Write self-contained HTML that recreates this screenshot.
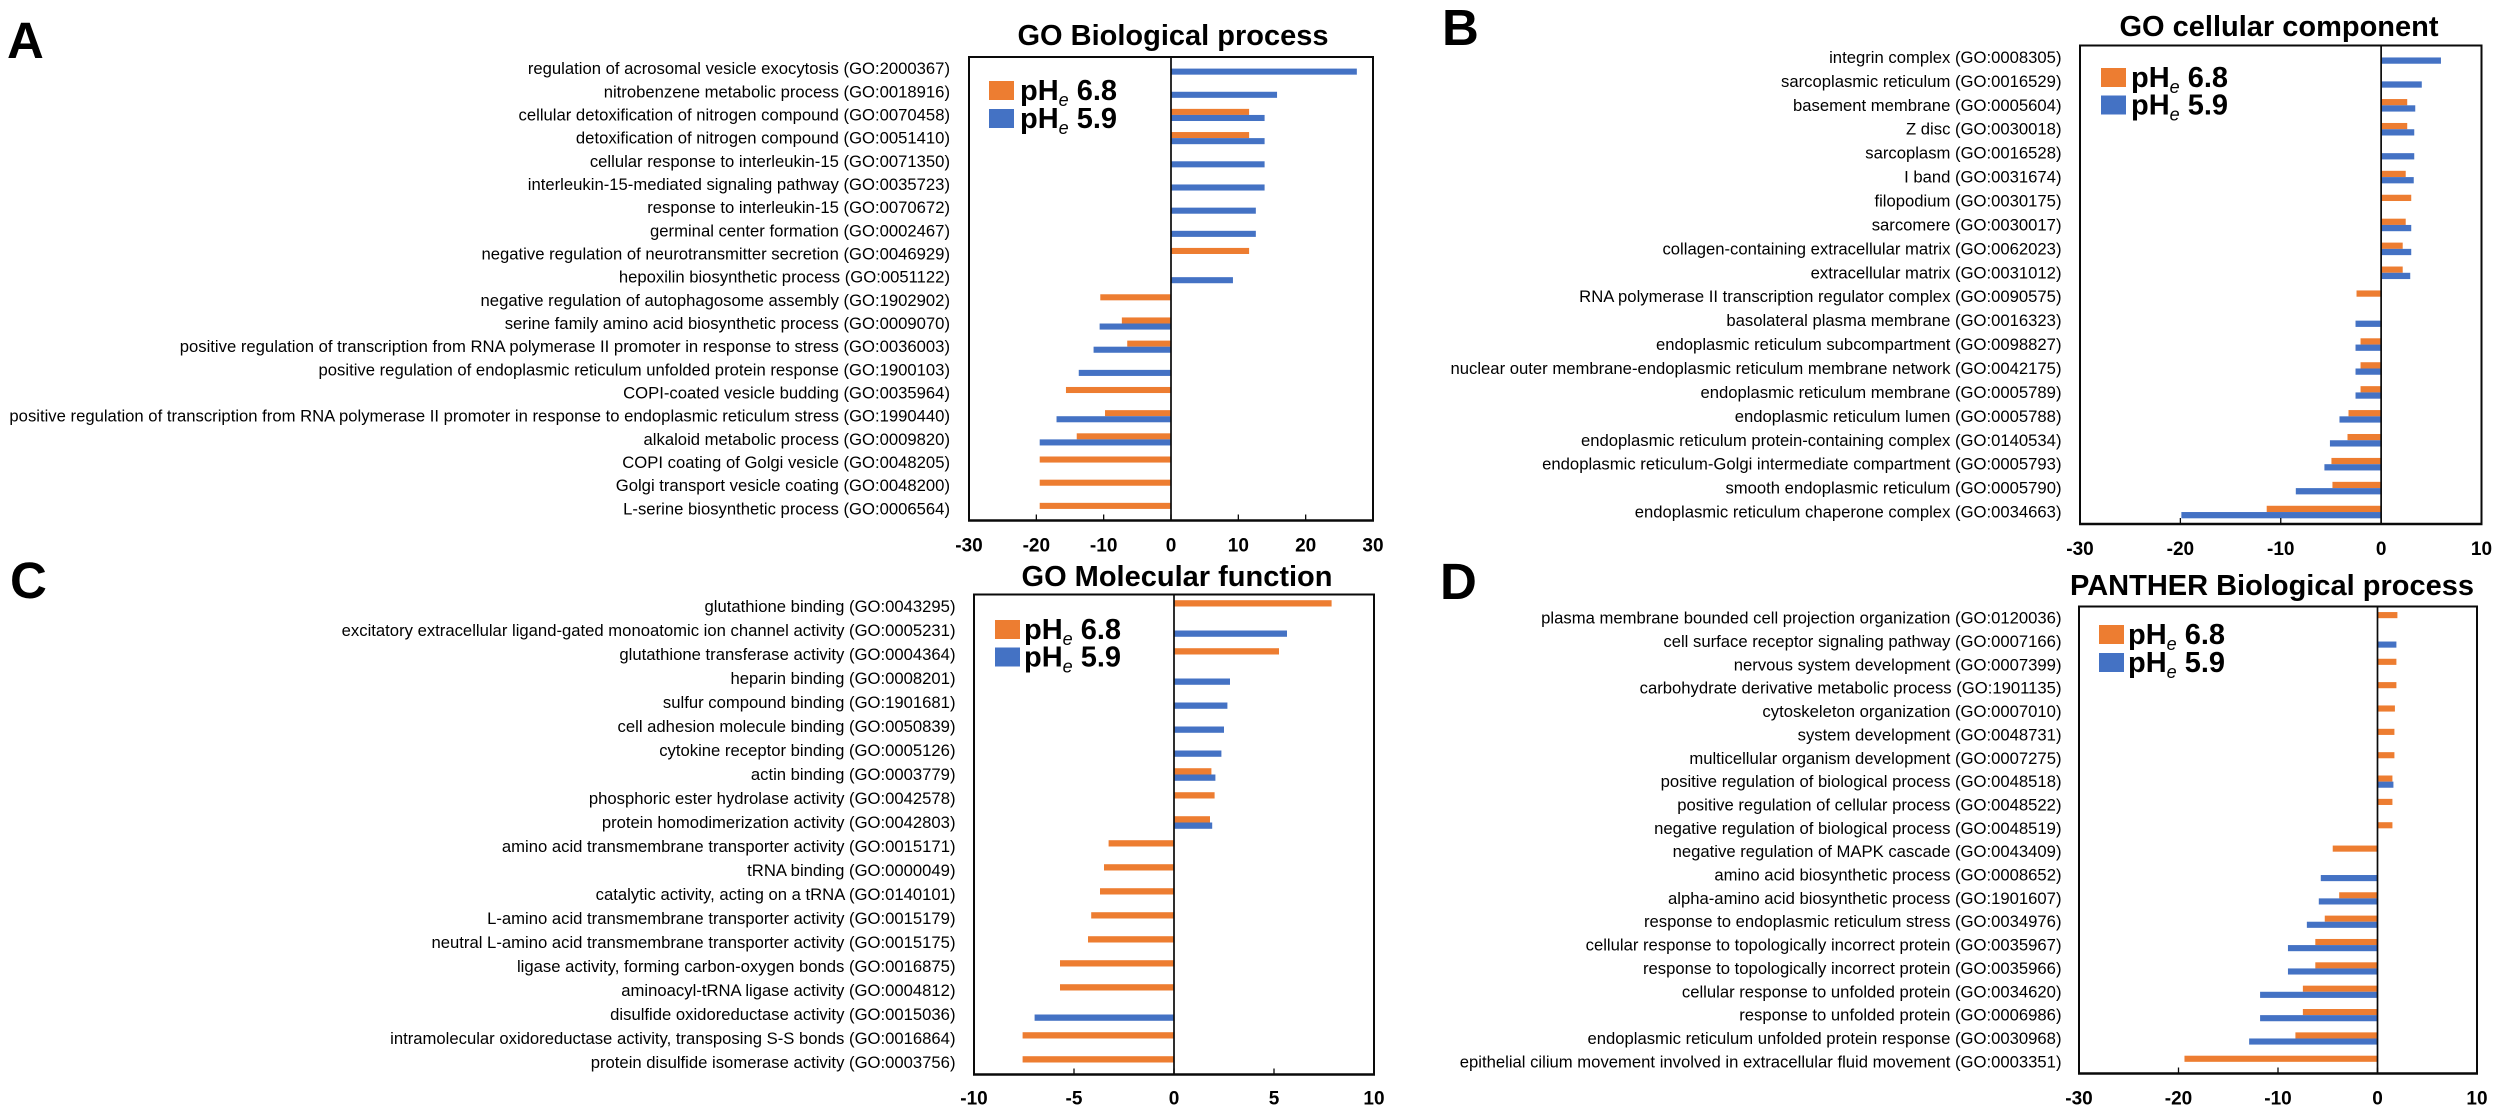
<!DOCTYPE html>
<html lang="en">
<head>
<meta charset="utf-8">
<title>GO enrichment bar charts</title>
<style>
html,body{margin:0;padding:0;background:#fff;width:2500px;height:1113px;overflow:hidden}
svg{display:block;font-family:"Liberation Sans",Arial,sans-serif}
.title{font-weight:700;font-size:29px;text-anchor:middle;fill:#000}
.letter{font-weight:700;font-size:51px;fill:#000}
.leg{font-weight:700;font-size:29px;fill:#000}
.leg .sub{font-weight:400;font-style:italic;font-size:18px}
.cat{font-size:16.66px;text-anchor:end;fill:#000}
.tick{font-weight:700;font-size:19px;text-anchor:middle;fill:#000}
</style>
</head>
<body>
<svg id="figure" xmlns="http://www.w3.org/2000/svg" width="2500" height="1113" viewBox="0 0 2500 1113">
  <rect x="0" y="0" width="2500" height="1113" fill="#fff"/>

  <g id="panel-a">
    <text class="letter" x="7" y="58">A</text>
    <text class="title" x="1173" y="45">GO Biological process</text>
    <g>
      <rect x="989" y="81" width="25" height="19" fill="#ED7D31"/>
      <text class="leg" x="1020" y="100">pH<tspan class="sub" dy="6">e</tspan><tspan dy="-6"> 6.8</tspan></text>
      <rect x="989" y="109" width="25" height="19" fill="#4472C4"/>
      <text class="leg" x="1020" y="128">pH<tspan class="sub" dy="6">e</tspan><tspan dy="-6"> 5.9</tspan></text>
    </g>
  </g>

  <g id="panel-b">
    <text class="letter" x="1442" y="45">B</text>
    <text class="title" x="2279" y="36">GO cellular component</text>
    <g>
      <rect x="2101" y="68" width="25" height="19" fill="#ED7D31"/>
      <text class="leg" x="2131" y="87">pH<tspan class="sub" dy="6">e</tspan><tspan dy="-6"> 6.8</tspan></text>
      <rect x="2101" y="95.5" width="25" height="19" fill="#4472C4"/>
      <text class="leg" x="2131" y="114.5">pH<tspan class="sub" dy="6">e</tspan><tspan dy="-6"> 5.9</tspan></text>
    </g>
  </g>

  <g id="panel-c">
    <text class="letter" x="10" y="598">C</text>
    <text class="title" x="1177" y="586">GO Molecular function</text>
    <g>
      <rect x="995" y="620" width="25" height="19" fill="#ED7D31"/>
      <text class="leg" x="1024" y="639">pH<tspan class="sub" dy="6">e</tspan><tspan dy="-6"> 6.8</tspan></text>
      <rect x="995" y="647.5" width="25" height="19" fill="#4472C4"/>
      <text class="leg" x="1024" y="666.5">pH<tspan class="sub" dy="6">e</tspan><tspan dy="-6"> 5.9</tspan></text>
    </g>
  </g>

  <g id="panel-d">
    <text class="letter" x="1440" y="599">D</text>
    <text class="title" x="2272" y="595">PANTHER Biological process</text>
    <g>
      <rect x="2099" y="625" width="25" height="19" fill="#ED7D31"/>
      <text class="leg" x="2128" y="644">pH<tspan class="sub" dy="6">e</tspan><tspan dy="-6"> 6.8</tspan></text>
      <rect x="2099" y="653" width="25" height="19" fill="#4472C4"/>
      <text class="leg" x="2128" y="672">pH<tspan class="sub" dy="6">e</tspan><tspan dy="-6"> 5.9</tspan></text>
    </g>
  </g>
</svg>

<script>
// ---------- Panel A data ----------
const categoriesA = [
  "regulation of acrosomal vesicle exocytosis (GO:2000367)",
  "nitrobenzene metabolic process (GO:0018916)",
  "cellular detoxification of nitrogen compound (GO:0070458)",
  "detoxification of nitrogen compound (GO:0051410)",
  "cellular response to interleukin-15 (GO:0071350)",
  "interleukin-15-mediated signaling pathway (GO:0035723)",
  "response to interleukin-15 (GO:0070672)",
  "germinal center formation (GO:0002467)",
  "negative regulation of neurotransmitter secretion (GO:0046929)",
  "hepoxilin biosynthetic process (GO:0051122)",
  "negative regulation of autophagosome assembly (GO:1902902)",
  "serine family amino acid biosynthetic process (GO:0009070)",
  "positive regulation of transcription from RNA polymerase II promoter in response to stress (GO:0036003)",
  "positive regulation of endoplasmic reticulum unfolded protein response (GO:1900103)",
  "COPI-coated vesicle budding (GO:0035964)",
  "positive regulation of transcription from RNA polymerase II promoter in response to endoplasmic reticulum stress (GO:1990440)",
  "alkaloid metabolic process (GO:0009820)",
  "COPI coating of Golgi vesicle (GO:0048205)",
  "Golgi transport vesicle coating (GO:0048200)",
  "L-serine biosynthetic process (GO:0006564)"
];
const ph68A = [null,null,11.6,11.6,null,null,null,null,11.6,null,-10.5,-7.3,-6.5,null,-15.6,-9.8,-14,-19.5,-19.5,-19.5];
const ph59A = [27.6,15.75,13.9,13.9,13.9,13.9,12.6,12.6,null,9.2,null,-10.6,-11.5,-13.7,null,-17,-19.5,null,null,null];
const ticksA = [-30,-20,-10,0,10,20,30];

// ---------- Panel B data ----------
const categoriesB = [
  "integrin complex (GO:0008305)",
  "sarcoplasmic reticulum (GO:0016529)",
  "basement membrane (GO:0005604)",
  "Z disc (GO:0030018)",
  "sarcoplasm (GO:0016528)",
  "I band (GO:0031674)",
  "filopodium (GO:0030175)",
  "sarcomere (GO:0030017)",
  "collagen-containing extracellular matrix (GO:0062023)",
  "extracellular matrix (GO:0031012)",
  "RNA polymerase II transcription regulator complex (GO:0090575)",
  "basolateral plasma membrane (GO:0016323)",
  "endoplasmic reticulum subcompartment (GO:0098827)",
  "nuclear outer membrane-endoplasmic reticulum membrane network (GO:0042175)",
  "endoplasmic reticulum membrane (GO:0005789)",
  "endoplasmic reticulum lumen (GO:0005788)",
  "endoplasmic reticulum protein-containing complex (GO:0140534)",
  "endoplasmic reticulum-Golgi intermediate compartment (GO:0005793)",
  "smooth endoplasmic reticulum (GO:0005790)",
  "endoplasmic reticulum chaperone complex (GO:0034663)"
];
const ph68B = [null,null,2.6,2.6,null,2.45,3.0,2.45,2.15,2.15,-2.45,null,-2.05,-2.05,-2.05,-3.25,-3.35,-4.95,-4.85,-11.4];
const ph59B = [5.96,4.05,3.4,3.3,3.3,3.25,null,3.0,3.0,2.9,null,-2.55,-2.55,-2.55,-2.55,-4.15,-5.1,-5.65,-8.5,-19.9];
const ticksB = [-30,-20,-10,0,10];

// ---------- Panel C data ----------
const categoriesC = [
  "glutathione binding (GO:0043295)",
  "excitatory extracellular ligand-gated monoatomic ion channel activity (GO:0005231)",
  "glutathione transferase activity (GO:0004364)",
  "heparin binding (GO:0008201)",
  "sulfur compound binding (GO:1901681)",
  "cell adhesion molecule binding (GO:0050839)",
  "cytokine receptor binding (GO:0005126)",
  "actin binding (GO:0003779)",
  "phosphoric ester hydrolase activity (GO:0042578)",
  "protein homodimerization activity (GO:0042803)",
  "amino acid transmembrane transporter activity (GO:0015171)",
  "tRNA binding (GO:0000049)",
  "catalytic activity, acting on a tRNA (GO:0140101)",
  "L-amino acid transmembrane transporter activity (GO:0015179)",
  "neutral L-amino acid transmembrane transporter activity (GO:0015175)",
  "ligase activity, forming carbon-oxygen bonds (GO:0016875)",
  "aminoacyl-tRNA ligase activity (GO:0004812)",
  "disulfide oxidoreductase activity (GO:0015036)",
  "intramolecular oxidoreductase activity, transposing S-S bonds (GO:0016864)",
  "protein disulfide isomerase activity (GO:0003756)"
];
const ph68C = [7.88,null,5.25,null,null,null,null,1.87,2.03,1.8,-3.27,-3.5,-3.7,-4.14,-4.3,-5.7,-5.7,null,-7.57,-7.57];
const ph59C = [null,5.65,null,2.8,2.67,2.5,2.37,2.07,null,1.91,null,null,null,null,null,null,null,-6.97,null,null];
const ticksC = [-10,-5,0,5,10];

// ---------- Panel D data ----------
const categoriesD = [
  "plasma membrane bounded cell projection organization (GO:0120036)",
  "cell surface receptor signaling pathway (GO:0007166)",
  "nervous system development (GO:0007399)",
  "carbohydrate derivative metabolic process (GO:1901135)",
  "cytoskeleton organization (GO:0007010)",
  "system development (GO:0048731)",
  "multicellular organism development (GO:0007275)",
  "positive regulation of biological process (GO:0048518)",
  "positive regulation of cellular process (GO:0048522)",
  "negative regulation of biological process (GO:0048519)",
  "negative regulation of MAPK cascade (GO:0043409)",
  "amino acid biosynthetic process (GO:0008652)",
  "alpha-amino acid biosynthetic process (GO:1901607)",
  "response to endoplasmic reticulum stress (GO:0034976)",
  "cellular response to topologically incorrect protein (GO:0035967)",
  "response to topologically incorrect protein (GO:0035966)",
  "cellular response to unfolded protein (GO:0034620)",
  "response to unfolded protein (GO:0006986)",
  "endoplasmic reticulum unfolded protein response (GO:0030968)",
  "epithelial cilium movement involved in extracellular fluid movement (GO:0003351)"
];
const ph68D = [2.0,null,1.9,1.9,1.75,1.7,1.7,1.5,1.5,1.5,-4.5,null,-3.85,-5.3,-6.25,-6.25,-7.5,-7.5,-8.25,-19.4];
const ph59D = [null,1.9,null,null,null,null,null,1.6,null,null,null,-5.7,-5.9,-7.1,-9,-9,-11.8,-11.8,-12.9,null];
const ticksD = [-30,-20,-10,0,10];

// ---------- Drawing ----------
const SVG_NS = "http://www.w3.org/2000/svg";
const ORANGE = "#ED7D31";
const BLUE = "#4472C4";
const AXIS = "#0a0a0a";

function make(parent, tag, attrs, text) {
  const el = document.createElementNS(SVG_NS, tag);
  for (const k in attrs) el.setAttribute(k, attrs[k]);
  if (text !== undefined) el.textContent = text;
  parent.appendChild(el);
  return el;
}

function drawPanel(groupId, frame, categories, orange, blue, ticks) {
  const root = document.getElementById(groupId);
  const xMin = Math.min.apply(null, ticks);
  const xMax = Math.max.apply(null, ticks);
  const xScale = v => frame.left + (v - xMin) / (xMax - xMin) * (frame.right - frame.left);
  const band = (frame.bottom - frame.top) / categories.length;
  const yCenter = i => frame.top + (i + 0.5) * band;
  const barH = band * 0.262;

  const labels = make(root, "g", {});
  
  
  categories.forEach((c, i) => {
    const t = make(labels, "text", {class: "cat", x: frame.labelX, y: yCenter(i) + frame.labelDy}, c);
    
    
  });

  const bars = make(root, "g", {});
  
  
  categories.forEach((c, i) => {
    if (orange[i] !== null) {
      const x0 = xScale(Math.min(0, orange[i])), x1 = xScale(Math.max(0, orange[i]));
      const r = make(bars, "rect", {x: x0, y: yCenter(i) - barH, width: x1 - x0, height: barH, fill: ORANGE});
      
      
    }
    if (blue[i] !== null) {
      const x0 = xScale(Math.min(0, blue[i])), x1 = xScale(Math.max(0, blue[i]));
      const r = make(bars, "rect", {x: x0, y: yCenter(i), width: x1 - x0, height: barH, fill: BLUE});
      
      
    }
  });

  const zero = make(root, "line", {x1: xScale(0), x2: xScale(0), y1: frame.top, y2: frame.bottom, stroke: AXIS, "stroke-width": 1.7});
  
  

  const plot = make(root, "rect", {x: frame.left, y: frame.top, width: frame.right - frame.left, height: frame.bottom - frame.top, fill: "none", stroke: AXIS, "stroke-width": 2});
  
  

  const base = make(root, "line", {x1: frame.left - 1, x2: frame.right + 1, y1: frame.bottom, y2: frame.bottom, stroke: AXIS, "stroke-width": 2.6});
  
  

  const tickGroup = make(root, "g", {});
  
  
  ticks.forEach(v => {
    const m = make(tickGroup, "line", {x1: xScale(v), x2: xScale(v), y1: frame.bottom - 6, y2: frame.bottom, stroke: AXIS, "stroke-width": 1.3});
    
    
    const l = make(tickGroup, "text", {class: "tick", x: xScale(v), y: frame.tickY}, String(v));
    
    
  });
}

drawPanel("panel-a", {left: 969, right: 1373, top: 57, bottom: 520.5, labelX: 950, labelDy: 5.5, tickY: 551.5}, categoriesA, ph68A, ph59A, ticksA);
drawPanel("panel-b", {left: 2080, right: 2481.5, top: 45.5, bottom: 524, labelX: 2061.5, labelDy: 5.5, tickY: 555}, categoriesB, ph68B, ph59B, ticksB);
drawPanel("panel-c", {left: 974, right: 1374, top: 594.5, bottom: 1074.5, labelX: 955.5, labelDy: 5.5, tickY: 1104.5}, categoriesC, ph68C, ph59C, ticksC);
drawPanel("panel-d", {left: 2079, right: 2477, top: 606.5, bottom: 1073.5, labelX: 2061.5, labelDy: 5.5, tickY: 1104.5}, categoriesD, ph68D, ph59D, ticksD);
</script>
</body>
</html>
